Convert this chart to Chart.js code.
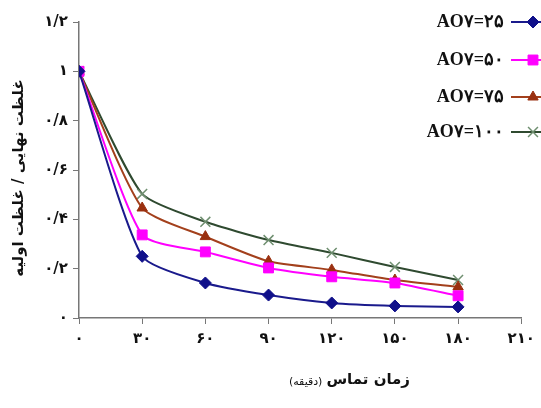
<!DOCTYPE html>
<html>
<head>
<meta charset="utf-8">
<script src="https://cdn.jsdelivr.net/npm/chart.js@4/dist/chart.umd.min.js"></script>
<style>
  body { margin: 0; background: #fff; }
  canvas { display: block; }
</style>
</head>
<body>
<canvas id="chart" width="541" height="408"></canvas>
<script>
// contact time (minutes) and C/C0 for each AO7 dose
const times = [0, 30, 60, 90, 120, 150, 180];
const aov25 = [1, 0.25, 0.142, 0.093, 0.061, 0.049, 0.045];
const aov50 = [1, 0.337, 0.268, 0.203, 0.167, 0.142, 0.09];
const aov75 = [1, 0.446, 0.33, 0.23, 0.195, 0.154, 0.126];
const aov100 = [1, 0.503, 0.39, 0.316, 0.264, 0.207, 0.154];
const seriesLabels = ['AO۷=۲۵', 'AO۷=۵۰', 'AO۷=۷۵', 'AO۷=۱۰۰'];
const xTitle = 'زمان تماس';
const xTitleUnit = '(دقیقه)';
const yTitle = 'غلظت نهایی / غلظت اولیه';

const FA = '۰۱۲۳۴۵۶۷۸۹';
function faNum(v) {
  return String(v).replace(/\d/g, d => FA[d]).replace('.', '/');
}

function pts(vals) {
  return vals.map((v, i) => ({x: times[i], y: v}));
}

const styles = [
  {color: '#1a1a8c', pointStyle: 'rectRot', fill: '#10108a', radius: 6, pointBorder: '#10108a'},
  {color: '#ff00ff', pointStyle: 'rect', fill: '#ff00ff', radius: 7, pointBorder: '#ff00ff'},
  {color: '#a3401c', pointStyle: 'triangle', fill: '#9a3010', radius: 6, pointBorder: '#9a3010'},
  {color: '#2f4a30', pointStyle: 'crossRot', fill: '#6f8f70', radius: 7, pointBorder: '#6f8f70'}
];
const allVals = [aov25, aov50, aov75, aov100];

const datasets = allVals.map((vals, i) => ({
  label: seriesLabels[i],
  data: pts(vals),
  borderColor: styles[i].color,
  borderWidth: 2,
  tension: 0.2,
  pointStyle: styles[i].pointStyle,
  pointRadius: styles[i].radius,
  pointBackgroundColor: styles[i].fill,
  pointBorderColor: styles[i].pointBorder,
  pointBorderWidth: styles[i].pointStyle === 'crossRot' ? 1.5 : 1,
  fill: false
}));

const extras = {
  id: 'extras',
  afterDraw(chart) {
    const ctx = chart.ctx;
    ctx.save();
    // legend: text then line sample with marker
    const rowY = [22, 60, 97, 132];
    chart.data.datasets.forEach((ds, i) => {
      const y = rowY[i];
      ctx.font = 'bold 18px "Liberation Serif", "DejaVu Serif", serif';
      ctx.fillStyle = '#111';
      ctx.textAlign = 'right';
      ctx.textBaseline = 'middle';
      ctx.direction = 'ltr';
      ctx.fillText(ds.label, 504, y);
      ctx.strokeStyle = ds.borderColor;
      ctx.lineWidth = 2;
      ctx.beginPath();
      ctx.moveTo(511, y);
      ctx.lineTo(541, y);
      ctx.stroke();
      ctx.fillStyle = ds.pointBackgroundColor;
      ctx.strokeStyle = ds.pointBorderColor;
      ctx.lineWidth = ds.pointBorderWidth;
      Chart.helpers.drawPoint(ctx, {pointStyle: ds.pointStyle, radius: ds.pointRadius, borderWidth: ds.pointBorderWidth, rotation: 0}, 533, y);
    });

    // x axis title (rtl)
    ctx.fillStyle = '#111';
    ctx.textBaseline = 'middle';
    ctx.direction = 'rtl';
    ctx.font = 'bold 15px "DejaVu Sans", sans-serif';
    ctx.textAlign = 'right';
    const right = 410;
    ctx.fillText(xTitle, right, 380);
    const w1 = ctx.measureText(xTitle).width;
    ctx.font = '11px "DejaVu Sans", sans-serif';
    ctx.fillText(xTitleUnit, right - w1 - 4, 382);

    // y axis title rotated
    ctx.translate(19, 178);
    ctx.rotate(-Math.PI / 2);
    ctx.font = 'bold 15px "DejaVu Sans", sans-serif';
    ctx.textAlign = 'center';
    ctx.fillText(yTitle, 0, 0);
    ctx.restore();
  }
};

new Chart(document.getElementById('chart'), {
  type: 'line',
  data: {datasets},
  options: {
    responsive: false,
    animation: false,
    layout: {padding: {top: 22, right: 18, left: 0, bottom: 0}},
    plugins: {legend: {display: false}, tooltip: {enabled: false}},
    scales: {
      x: {
        type: 'linear',
        min: 0, max: 210,
        ticks: {stepSize: 30, color: '#111', font: {family: 'DejaVu Sans', size: 15, weight: 'bold'}, padding: 6,
          callback: v => faNum(v), maxRotation: 0},
        grid: {drawOnChartArea: false, drawTicks: true, tickLength: 6, color: '#777'},
        border: {color: '#777', width: 1.5},
        afterFit: s => { s.height = 90; }
      },
      y: {
        min: 0, max: 1.2,
        ticks: {stepSize: 0.2, color: '#111', font: {family: 'DejaVu Sans', size: 15, weight: 'bold'}, padding: 5,
          callback: v => faNum(Math.round(v * 10) / 10)},
        grid: {drawOnChartArea: false, drawTicks: true, tickLength: 6, color: '#777'},
        border: {color: '#777', width: 1.5},
        afterFit: s => { s.width = 79; }
      }
    }
  },
  plugins: [extras]
});
</script>
</body>
</html>
